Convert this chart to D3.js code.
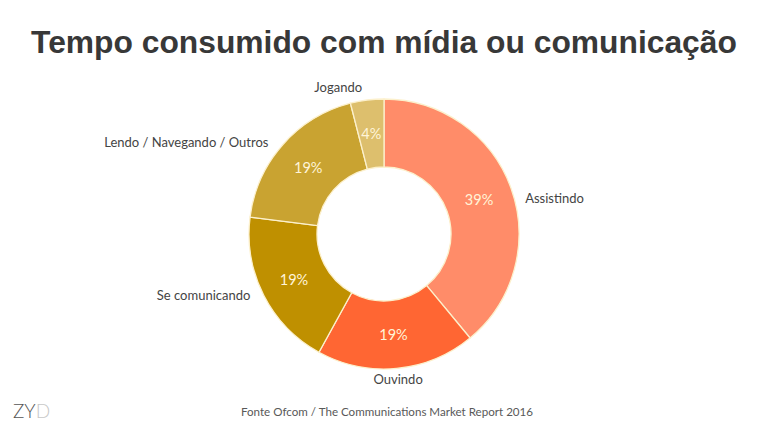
<!DOCTYPE html>
<html><head><meta charset="utf-8">
<script src="https://cdn.jsdelivr.net/npm/d3@7"></script>
<style>html,body{margin:0;padding:0;background:#fff;}svg{display:block;}</style>
</head><body>
<svg id="c" width="768" height="432"></svg>
<script>
const title = "Tempo consumido com mídia ou comunicação";
const categories = ["Assistindo", "Ouvindo", "Se comunicando", "Lendo / Navegando / Outros", "Jogando"];
const values = [39, 19, 19, 19, 4];
const colors = ["#FF8C69", "#FF6633", "#BF9000", "#C9A331", "#DDBF6D"];
const source = "Fonte Ofcom / The Communications Market Report 2016";

const svg = d3.select("#c");
const W = 768, H = 432;
const cx = 384, cy = 234, R = 135, r0 = 67;
const labFont = "Lato, Open Sans, sans-serif";

// title
const t = svg.append("text").attr("x", W/2).attr("y", 53).attr("text-anchor", "middle")
  .attr("font-family", "Liberation Sans, Arial, sans-serif").attr("font-weight", "bold")
  .attr("font-size", 32).attr("fill", "#383838").text(title);
const tw = t.node().getComputedTextLength();
t.attr("font-size", 32 * 706 / tw);

const pie = d3.pie().sort(null).value(d => d)(values);
const arc = d3.arc().innerRadius(r0).outerRadius(R);
const midArc = d3.arc().innerRadius((R + r0)/2).outerRadius((R + r0)/2);
const outArc = d3.arc().innerRadius(150).outerRadius(150);

const g = svg.append("g").attr("transform", `translate(${cx},${cy})`);
g.selectAll("path").data(pie).join("path")
  .attr("d", arc).attr("fill", (d, i) => colors[i])
  .attr("stroke", "#FCF0CC").attr("stroke-width", 1.3);

g.selectAll("text.pct").data(pie).join("text").attr("class", "pct")
  .attr("transform", d => `translate(${midArc.centroid(d)})`)
  .attr("text-anchor", "middle").attr("dominant-baseline", "central")
  .attr("font-family", labFont).attr("font-size", 14.5)
  .attr("fill", "#FFF4D8").text(d => d.data + "%");

// outside labels: anchor side + small nudges to follow the original layout
const nudge = [[0, 15, "start"], [0, -4, "middle"], [0, -7, "end"], [-3, 7, "end"], [-27, 2, "middle"]];
g.selectAll("text.lab").data(pie).join("text").attr("class", "lab")
  .attr("x", (d, i) => outArc.centroid(d)[0] + nudge[i][0])
  .attr("y", (d, i) => outArc.centroid(d)[1] + nudge[i][1])
  .attr("text-anchor", (d, i) => nudge[i][2]).attr("dominant-baseline", "central")
  .attr("font-family", labFont).attr("font-size", 13)
  .attr("fill", "#444").text((d, i) => categories[i]);

// footer
svg.append("text").attr("x", 387).attr("y", 416).attr("text-anchor", "middle")
  .attr("font-family", labFont).attr("font-size", 11.6)
  .attr("fill", "#595959").text(source);

const z = svg.append("text").attr("x", 13).attr("y", 418)
  .attr("font-family", "Lato, Open Sans, sans-serif").attr("font-weight", 300).attr("font-size", 19);
z.append("tspan").attr("fill", "#555").text("ZY");
z.append("tspan").attr("fill", "#c8c8c8").text("D");
</script>
</body></html>
